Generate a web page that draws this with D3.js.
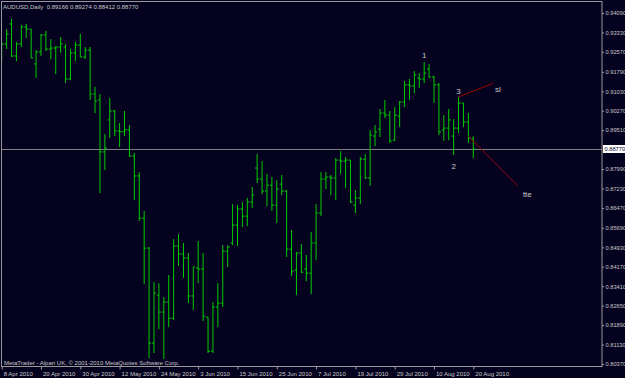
<!DOCTYPE html>
<html>
<head>
<meta charset="utf-8">
<script src="https://cdn.jsdelivr.net/npm/d3@7"></script>
<style>
html, body { margin: 0; padding: 0; background: #05021f; }
svg { display: block; }
</style>
</head>
<body>
<svg id="chart" width="625" height="378"></svg>
<script>
// AUDUSD daily, 8 Apr 2010 .. 20 Aug 2010 (one entry per trading day)
var symbol = "AUDUSD,Daily";
var lastBar = [0.89166, 0.89274, 0.88412, 0.88770];

var opens = [
	0.9272,0.9288,0.9366,0.9241,0.9288,0.9354,0.9346,0.9210,0.9257,0.9323,
	0.9268,0.9272,0.9276,0.9276,0.9151,0.9253,0.9284,0.9237,0.9264,0.9092,
	0.9069,0.8866,0.8991,0.9026,0.8948,0.8945,0.8952,0.8850,0.8772,0.8607,
	0.8490,0.8119,0.8306,0.8240,0.8279,0.8216,0.8498,0.8467,0.8451,0.8303,
	0.8412,0.8408,0.8220,0.8087,0.8260,0.8275,0.8478,0.8510,0.8580,0.8643,
	0.8615,0.8670,0.8803,0.8760,0.8713,0.8736,0.8658,0.8740,0.8713,0.8486,
	0.8404,0.8471,0.8408,0.8392,0.8510,0.8627,0.8760,0.8768,0.8764,0.8834,
	0.8830,0.8834,0.8658,0.8686,0.8838,0.8764,0.8928,0.8955,0.9018,0.9010,
	0.8912,0.9006,0.9061,0.9128,0.9124,0.9155,0.9151,0.9190,0.9159,0.9128,
	0.8952,0.8959,0.8928,0.8959,0.9057,0.8983,0.89166
];
var highs = [
	0.9296,0.9346,0.9386,0.9296,0.9362,0.9366,0.9346,0.9264,0.9327,0.9339,
	0.9307,0.9280,0.9315,0.9288,0.9268,0.9296,0.9327,0.9276,0.9276,0.9120,
	0.9092,0.8936,0.9077,0.9030,0.8979,0.9026,0.8971,0.8862,0.8787,0.8635,
	0.8494,0.8357,0.8353,0.8299,0.8385,0.8525,0.8545,0.8510,0.8471,0.8416,
	0.8518,0.8471,0.8220,0.8279,0.8353,0.8502,0.8502,0.8662,0.8658,0.8670,
	0.8686,0.8729,0.8858,0.8830,0.8780,0.8768,0.8756,0.8776,0.8717,0.8561,
	0.8474,0.8506,0.8463,0.8553,0.8662,0.8787,0.8787,0.8776,0.8842,0.8869,
	0.8846,0.8834,0.8717,0.8846,0.8858,0.8952,0.8971,0.9034,0.9069,0.9026,
	0.9041,0.9065,0.9143,0.9151,0.9182,0.9174,0.9217,0.9210,0.9163,0.9135,
	0.9010,0.9034,0.8994,0.9081,0.9057,0.9018,0.89274
];
var lows = [
	0.9221,0.9268,0.9237,0.9221,0.9276,0.9311,0.9233,0.9155,0.9241,0.9260,
	0.9229,0.9170,0.9253,0.9135,0.9147,0.9221,0.9237,0.9229,0.9069,0.9018,
	0.8705,0.8795,0.8920,0.8928,0.8885,0.8928,0.8846,0.8678,0.8596,0.8349,
	0.8060,0.8080,0.8173,0.8056,0.8181,0.8209,0.8420,0.8373,0.8275,0.8248,
	0.8353,0.8205,0.8080,0.8080,0.8181,0.8260,0.8416,0.8502,0.8498,0.8572,
	0.8576,0.8647,0.8744,0.8701,0.8654,0.8635,0.8588,0.8697,0.8455,0.8381,
	0.8306,0.8392,0.8361,0.8310,0.8443,0.8615,0.8721,0.8697,0.8678,0.8780,
	0.8725,0.8666,0.8627,0.8662,0.8760,0.8733,0.8889,0.8924,0.8998,0.8901,
	0.8909,0.8963,0.9041,0.9069,0.9096,0.9116,0.9135,0.9155,0.9057,0.8932,
	0.8909,0.8912,0.8854,0.8940,0.8963,0.8901,0.88412
];
var closes = [
	0.9288,0.9327,0.9241,0.9288,0.9354,0.9346,0.9233,0.9257,0.9323,0.9268,
	0.9272,0.9276,0.9288,0.9151,0.9253,0.9284,0.9237,0.9264,0.9092,0.9065,
	0.8866,0.8881,0.9026,0.8948,0.8945,0.8952,0.8850,0.8772,0.8607,0.8490,
	0.8119,0.8314,0.8240,0.8279,0.8216,0.8498,0.8467,0.8451,0.8303,0.8416,
	0.8408,0.8224,0.8087,0.8260,0.8275,0.8478,0.8494,0.8580,0.8643,0.8615,
	0.8670,0.8697,0.8760,0.8713,0.8736,0.8658,0.8721,0.8713,0.8486,0.8400,
	0.8471,0.8396,0.8392,0.8510,0.8627,0.8760,0.8768,0.8764,0.8834,0.8830,
	0.8834,0.8670,0.8686,0.8838,0.8764,0.8932,0.8944,0.9018,0.9010,0.8909,
	0.9010,0.9061,0.9128,0.9124,0.9167,0.9151,0.9174,0.9159,0.9128,0.8944,
	0.8959,0.8991,0.8959,0.9057,0.8983,0.8920,0.88770
];

var dateTicks = [0, 8, 16, 24, 32, 40, 48, 56, 64, 72, 80, 88, 96];
var dateLabels = ["8 Apr 2010","20 Apr 2010","30 Apr 2010","12 May 2010","24 May 2010",
	"3 Jun 2010","15 Jun 2010","25 Jun 2010","7 Jul 2010","19 Jul 2010",
	"29 Jul 2010","10 Aug 2010","20 Aug 2010"];
var priceTicks = [0.94090,0.93330,0.92570,0.91790,0.91030,0.90270,0.89510,
	0.87990,0.87230,0.86470,0.85690,0.84930,0.84170,0.83410,0.82650,
	0.81890,0.81130,0.80370];

// hand drawn objects: wave counts and two trend lines (bar index, price)
var waveText = ["1", "2", "3", "sl", "tte"];
var waveIdx = [86, 92, 93, 101, 107];
var wavePrice = [0.9245, 0.8811, 0.9104, 0.9112, 0.8701];
var lineFrom = [[93, 0.9081], [95, 0.8928]];
var lineTo = [[100, 0.9134], [105, 0.8734]];

var fg = "#c8c8c8", frame = "#9a9a9a", barColor = "#00cc00";
var font = "'Liberation Sans', Arial, sans-serif";

var svg = d3.select("#chart");
var W = 602, B = 366.5;

var x = d3.scaleLinear().domain([0, 96]).range([1.7, 473.3]);
var y = d3.scaleLinear().domain([0.8037, 0.9409]).range([364, 13]);

svg.append("rect").attr("width", 625).attr("height", 378).attr("fill", "#05021f");

svg.append("clipPath").attr("id", "plot")
	.append("rect").attr("x", 1).attr("y", 1).attr("width", W - 1).attr("height", B - 1);

var plot = svg.append("g").attr("clip-path", "url(#plot)");

// current price line
plot.append("line")
	.attr("x1", 1).attr("x2", W)
	.attr("y1", Math.round(y(lastBar[3])) + 0.5).attr("y2", Math.round(y(lastBar[3])) + 0.5)
	.attr("stroke", "#808080");

// OHLC bars
var bars = opens.map(function(o, i){
	return {i: i, o: o, h: highs[i], l: lows[i], c: closes[i]};
});
plot.selectAll(".bar").data(bars).enter()
	.append("path").attr("class", "bar")
	.attr("d", function(d){
		var bx = x(d.i);
		return "M" + bx + "," + y(d.h) + "V" + y(d.l) +
			"M" + (bx - 2) + "," + y(d.o) + "H" + bx +
			"M" + bx + "," + y(d.c) + "H" + (bx + 2);
	})
	.attr("fill", "none")
	.attr("stroke", barColor)
	.attr("stroke-width", 1);

// trend lines
plot.selectAll(".trend").data(lineFrom).enter()
	.append("line").attr("class", "trend")
	.attr("x1", function(d){ return x(d[0]); })
	.attr("y1", function(d){ return y(d[1]); })
	.attr("x2", function(d, k){ return x(lineTo[k][0]); })
	.attr("y2", function(d, k){ return y(lineTo[k][1]); })
	.attr("stroke", "#a00000")
	.attr("stroke-width", 1);

// wave labels
plot.selectAll(".wave").data(waveText).enter()
	.append("text").attr("class", "wave")
	.attr("x", function(d, k){ return x(waveIdx[k]); })
	.attr("y", function(d, k){ return y(wavePrice[k]); })
	.attr("dy", "0.35em")
	.attr("text-anchor", "middle")
	.attr("font-family", font).attr("font-size", 8)
	.attr("fill", fg)
	.text(function(d){ return d; });

// frame
svg.append("rect")
	.attr("x", 1.5).attr("y", 1.5).attr("width", W - 1.5).attr("height", B - 1.5)
	.attr("fill", "none").attr("stroke", frame);

// price axis
var yAxis = d3.axisRight(y).tickValues(priceTicks)
	.tickFormat(d3.format(".5f")).tickSize(2).tickPadding(1.5);
var gy = svg.append("g").attr("transform", "translate(" + W + ",0)").call(yAxis);
gy.select(".domain").remove();
gy.selectAll("line").attr("stroke", frame);
gy.selectAll("text").attr("fill", fg).attr("font-family", font).attr("font-size", 5.7);

// current price marker
var cy = Math.round(y(lastBar[3]));
svg.append("rect").attr("x", 603).attr("y", cy - 4).attr("width", 22).attr("height", 8)
	.attr("fill", "#ffffff");
svg.append("text").attr("x", 604.5).attr("y", cy).attr("dy", "0.35em")
	.attr("font-family", font).attr("font-size", 5.7).attr("fill", "#05021f")
	.text(d3.format(".5f")(lastBar[3]));

// time axis
var xAxis = d3.axisBottom(x).tickValues(dateTicks)
	.tickFormat(function(d, k){ return dateLabels[k]; }).tickSize(3);
var gx = svg.append("g").attr("transform", "translate(0," + B + ")").call(xAxis);
gx.select(".domain").remove();
gx.selectAll("line").attr("stroke", frame);
gx.selectAll("text")
	.attr("fill", fg).attr("font-family", font).attr("font-size", 6)
	.attr("text-anchor", "start").attr("x", 1.5).attr("y", 9).attr("dy", 0);

// header and footer
svg.append("text").attr("x", 3).attr("y", 8.5)
	.attr("font-family", font).attr("font-size", 6).attr("fill", fg)
	.attr("xml:space", "preserve")
	.text(symbol + "  " + lastBar.map(d3.format(".5f")).join(" "));
svg.append("text").attr("x", 4).attr("y", 364.5)
	.attr("font-family", font).attr("font-size", 6).attr("fill", fg)
	.text("MetaTrader - Alpari UK, \u00a9 2001-2010 MetaQuotes Software Corp.");
</script>
</body>
</html>
